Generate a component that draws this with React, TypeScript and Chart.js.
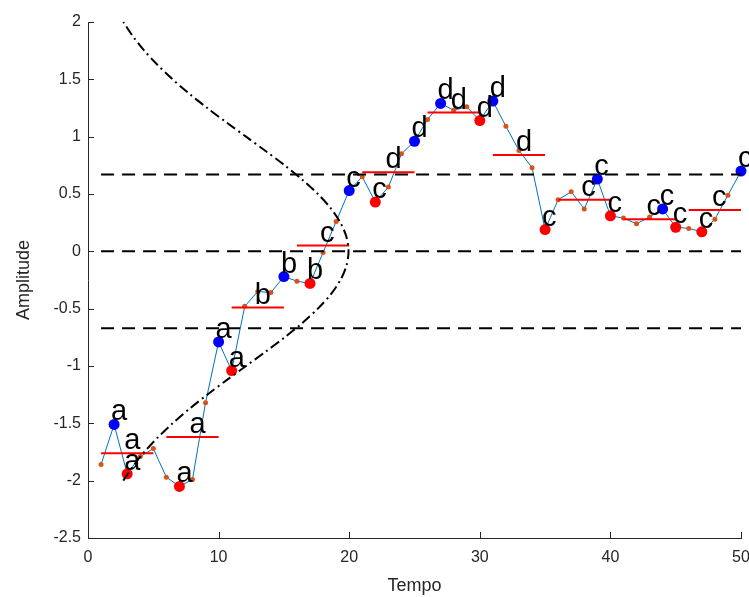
import React, { useEffect, useRef } from 'react';
import { Chart, registerables } from 'chart.js';

Chart.register(...registerables);

// Time axis (categories)
const tempo = [
  1, 2, 3, 4, 5, 6, 7, 8, 9, 10,
  11, 12, 13, 14, 15, 16, 17, 18, 19, 20,
  21, 22, 23, 24, 25, 26, 27, 28, 29, 30,
  31, 32, 33, 34, 35, 36, 37, 38, 39, 40,
  41, 42, 43, 44, 45, 46, 47, 48, 49, 50,
];

// Series values (normalised time series)
const amplitude = [
  -1.86, -1.51, -1.94, -1.79, -1.72,
  -1.97, -2.05, -1.99, -1.32, -0.79,
  -1.04, -0.48, -0.35, -0.36, -0.22,
  -0.26, -0.28, -0.01, 0.26, 0.53,
  0.65, 0.43, 0.56, 0.85, 0.96,
  1.15, 1.29, 1.23, 1.26, 1.14,
  1.31, 1.09, 0.88, 0.73, 0.19,
  0.45, 0.52, 0.37, 0.63, 0.31,
  0.29, 0.24, 0.30, 0.37, 0.21,
  0.20, 0.17, 0.28, 0.49, 0.70,
];

// PAA segments (start, end, mean value)
const segStart = [1, 6, 11, 16, 21, 26, 31, 36, 41, 46];
const segEnd = [5, 10, 15, 20, 25, 30, 35, 40, 45, 50];
const paaValues = [-1.76, -1.62, -0.49, 0.05, 0.69, 1.21, 0.84, 0.45, 0.28, 0.36];
const paaLetters = ['a', 'a', 'b', 'c', 'd', 'd', 'd', 'c', 'c', 'c'];

// Extreme points of each segment (time index) and their symbols
const maxIdx = [2, 10, 15, 20, 25, 27, 31, 39, 44, 50];
const minIdx = [3, 7, 11, 17, 22, 30, 35, 40, 45, 47];
const maxLetters = ['a', 'a', 'b', 'c', 'd', 'd', 'd', 'c', 'c', 'c'];
const minLetters = ['a', 'a', 'a', 'b', 'c', 'd', 'c', 'c', 'c', 'c'];

// SAX breakpoints
const breakpoints = [-0.67, 0, 0.67];

// Gaussian curve (amplitude vs. scaled density)
const gaussY = [
  -2, -1.875, -1.75, -1.625, -1.5, -1.375, -1.25, -1.125, -1, -0.875, -0.75, -0.625, -0.5, -0.375, -0.25, -0.125,
  0, 0.125, 0.25, 0.375, 0.5, 0.625, 0.75, 0.875, 1, 1.125, 1.25, 1.375, 1.5, 1.625, 1.75, 1.875, 2,
];
const gaussX = [
  2.70, 3.44, 4.31, 5.33, 6.48, 7.75, 9.13, 10.59, 12.10, 13.60, 15.06, 16.41, 17.60, 18.59, 19.33, 19.79,
  19.95, 19.79, 19.33, 18.59, 17.60, 16.41, 15.06, 13.60, 12.10, 10.59, 9.13, 7.75, 6.48, 5.33, 4.31, 3.44, 2.70,
];

const xTicks = [0, 10, 20, 30, 40, 50];
const yTicks = [-2.5, -2, -1.5, -1, -0.5, 0, 0.5, 1, 1.5, 2];

const AXIS_COLOR = '#262626';
const FONT = '"Liberation Sans", Arial, Helvetica, sans-serif';

const tickPlugin = {
  id: 'innerTicks',
  afterDraw(chart: any) {
    const { ctx, chartArea, scales } = chart;
    const xs = scales.x;
    const ys = scales.y;
    ctx.save();
    ctx.strokeStyle = AXIS_COLOR;
    ctx.lineWidth = 1;
    ctx.beginPath();
    yTicks.forEach((v) => {
      const py = Math.round(ys.getPixelForValue(v)) + 0.5;
      ctx.moveTo(chartArea.left, py);
      ctx.lineTo(chartArea.left + 6, py);
    });
    xTicks.forEach((v) => {
      const px = Math.round(xs.getPixelForValue(v)) + 0.5;
      ctx.moveTo(px, chartArea.bottom);
      ctx.lineTo(px, chartArea.bottom - 6);
    });
    ctx.stroke();
    ctx.restore();
  },
};

const letterPlugin = {
  id: 'saxLetters',
  afterDatasetsDraw(chart: any) {
    const { ctx, scales } = chart;
    const xs = scales.x;
    const ys = scales.y;
    ctx.save();
    ctx.font = `29px ${FONT}`;
    ctx.fillStyle = '#000000';
    ctx.textAlign = 'left';
    ctx.textBaseline = 'alphabetic';
    const put = (t: string, xv: number, yv: number) => {
      ctx.fillText(t, xs.getPixelForValue(xv) - 3, ys.getPixelForValue(yv) - 4);
    };
    for (let k = 0; k < segStart.length; k++) {
      const mi = maxIdx[k];
      const ni = minIdx[k];
      put(maxLetters[k], tempo[mi - 1], amplitude[mi - 1]);
      put(minLetters[k], tempo[ni - 1], amplitude[ni - 1]);
      put(paaLetters[k], (segStart[k] + segEnd[k]) / 2, paaValues[k]);
    }
    ctx.restore();
  },
};

export default function App() {
  const ref = useRef<HTMLCanvasElement>(null);

  useEffect(() => {
    const canvas = ref.current;
    if (!canvas) return;

    const paaData: any[] = [];
    segStart.forEach((s, k) => {
      paaData.push({ x: s, y: paaValues[k] });
      paaData.push({ x: segEnd[k], y: paaValues[k] });
      paaData.push({ x: segEnd[k] + 0.5, y: null });
    });

    const datasets: any[] = [
      {
        label: 'gauss',
        data: gaussY.map((yv, i) => ({ x: gaussX[i], y: yv })),
        borderColor: '#000000',
        borderWidth: 2,
        borderDash: [10, 4, 2, 4],
        pointRadius: 0,
        tension: 0.3,
        clip: false,
        order: 1,
      },
      ...breakpoints.map((b) => ({
        label: 'bp' + b,
        data: [
          { x: tempo[0], y: b },
          { x: tempo[tempo.length - 1], y: b },
        ],
        borderColor: '#000000',
        borderWidth: 2,
        borderDash: [13, 8],
        pointRadius: 0,
        clip: false,
        order: 2,
      })),
      {
        label: 'max',
        data: maxIdx.map((i) => ({ x: tempo[i - 1], y: amplitude[i - 1] })),
        showLine: false,
        pointRadius: 5.5,
        pointBackgroundColor: '#0000FF',
        pointBorderColor: '#0000FF',
        pointBorderWidth: 0,
        clip: false,
        order: 3,
      },
      {
        label: 'min',
        data: minIdx.map((i) => ({ x: tempo[i - 1], y: amplitude[i - 1] })),
        showLine: false,
        pointRadius: 5.5,
        pointBackgroundColor: '#FF0000',
        pointBorderColor: '#FF0000',
        pointBorderWidth: 0,
        clip: false,
        order: 3,
      },
      {
        label: 'paa',
        data: paaData,
        borderColor: '#FF0000',
        borderWidth: 2,
        pointRadius: 0,
        spanGaps: false,
        clip: false,
        order: 4,
      },
      {
        label: 'series',
        data: tempo.map((t, i) => ({ x: t, y: amplitude[i] })),
        borderColor: '#0072BD',
        borderWidth: 1,
        pointRadius: 2.5,
        pointBackgroundColor: '#D95319',
        pointBorderColor: '#D95319',
        pointBorderWidth: 0,
        tension: 0,
        clip: false,
        order: 5,
      },
    ];

    const chart = new Chart(canvas, {
      type: 'line',
      data: { datasets },
      options: {
        responsive: false,
        animation: false,
        devicePixelRatio: 1,
        layout: { padding: { top: 22, right: 8, left: 0, bottom: 0 } },
        plugins: {
          legend: { display: false },
          tooltip: { enabled: false },
        },
        scales: {
          x: {
            type: 'linear',
            min: 0,
            max: 50,
            afterBuildTicks: (s: any) => {
              s.ticks = xTicks.map((v) => ({ value: v }));
            },
            ticks: {
              color: AXIS_COLOR,
              font: { family: FONT, size: 16 },
              padding: 10,
              maxRotation: 0,
              callback: (v: any) => String(v),
            },
            grid: { display: false, drawTicks: false },
            border: { display: true, color: AXIS_COLOR, width: 1 },
            title: {
              display: true,
              text: 'Tempo',
              color: AXIS_COLOR,
              font: { family: FONT, size: 18 },
              padding: { top: 0, bottom: 0 },
            },
            afterFit: (s: any) => {
              s.height = 59;
              s.paddingLeft = 0;
              s.paddingRight = 0;
            },
          },
          y: {
            type: 'linear',
            min: -2.5,
            max: 2,
            afterBuildTicks: (s: any) => {
              s.ticks = yTicks.map((v) => ({ value: v }));
            },
            ticks: {
              color: AXIS_COLOR,
              font: { family: FONT, size: 16 },
              padding: 7,
              callback: (v: any) => String(v),
            },
            grid: { display: false, drawTicks: false },
            border: { display: true, color: AXIS_COLOR, width: 1 },
            title: {
              display: true,
              text: 'Amplitude',
              color: AXIS_COLOR,
              font: { family: FONT, size: 18 },
              padding: { top: 13, bottom: 0 },
            },
            afterFit: (s: any) => {
              s.width = 88;
              s.paddingTop = 0;
              s.paddingBottom = 0;
            },
          },
        },
      },
      plugins: [tickPlugin, letterPlugin],
    });

    return () => chart.destroy();
  }, []);

  return (
    <canvas
      ref={ref}
      width={749}
      height={597}
      style={{ position: 'absolute', left: 0, top: 0, width: 749, height: 597 }}
    />
  );
}
